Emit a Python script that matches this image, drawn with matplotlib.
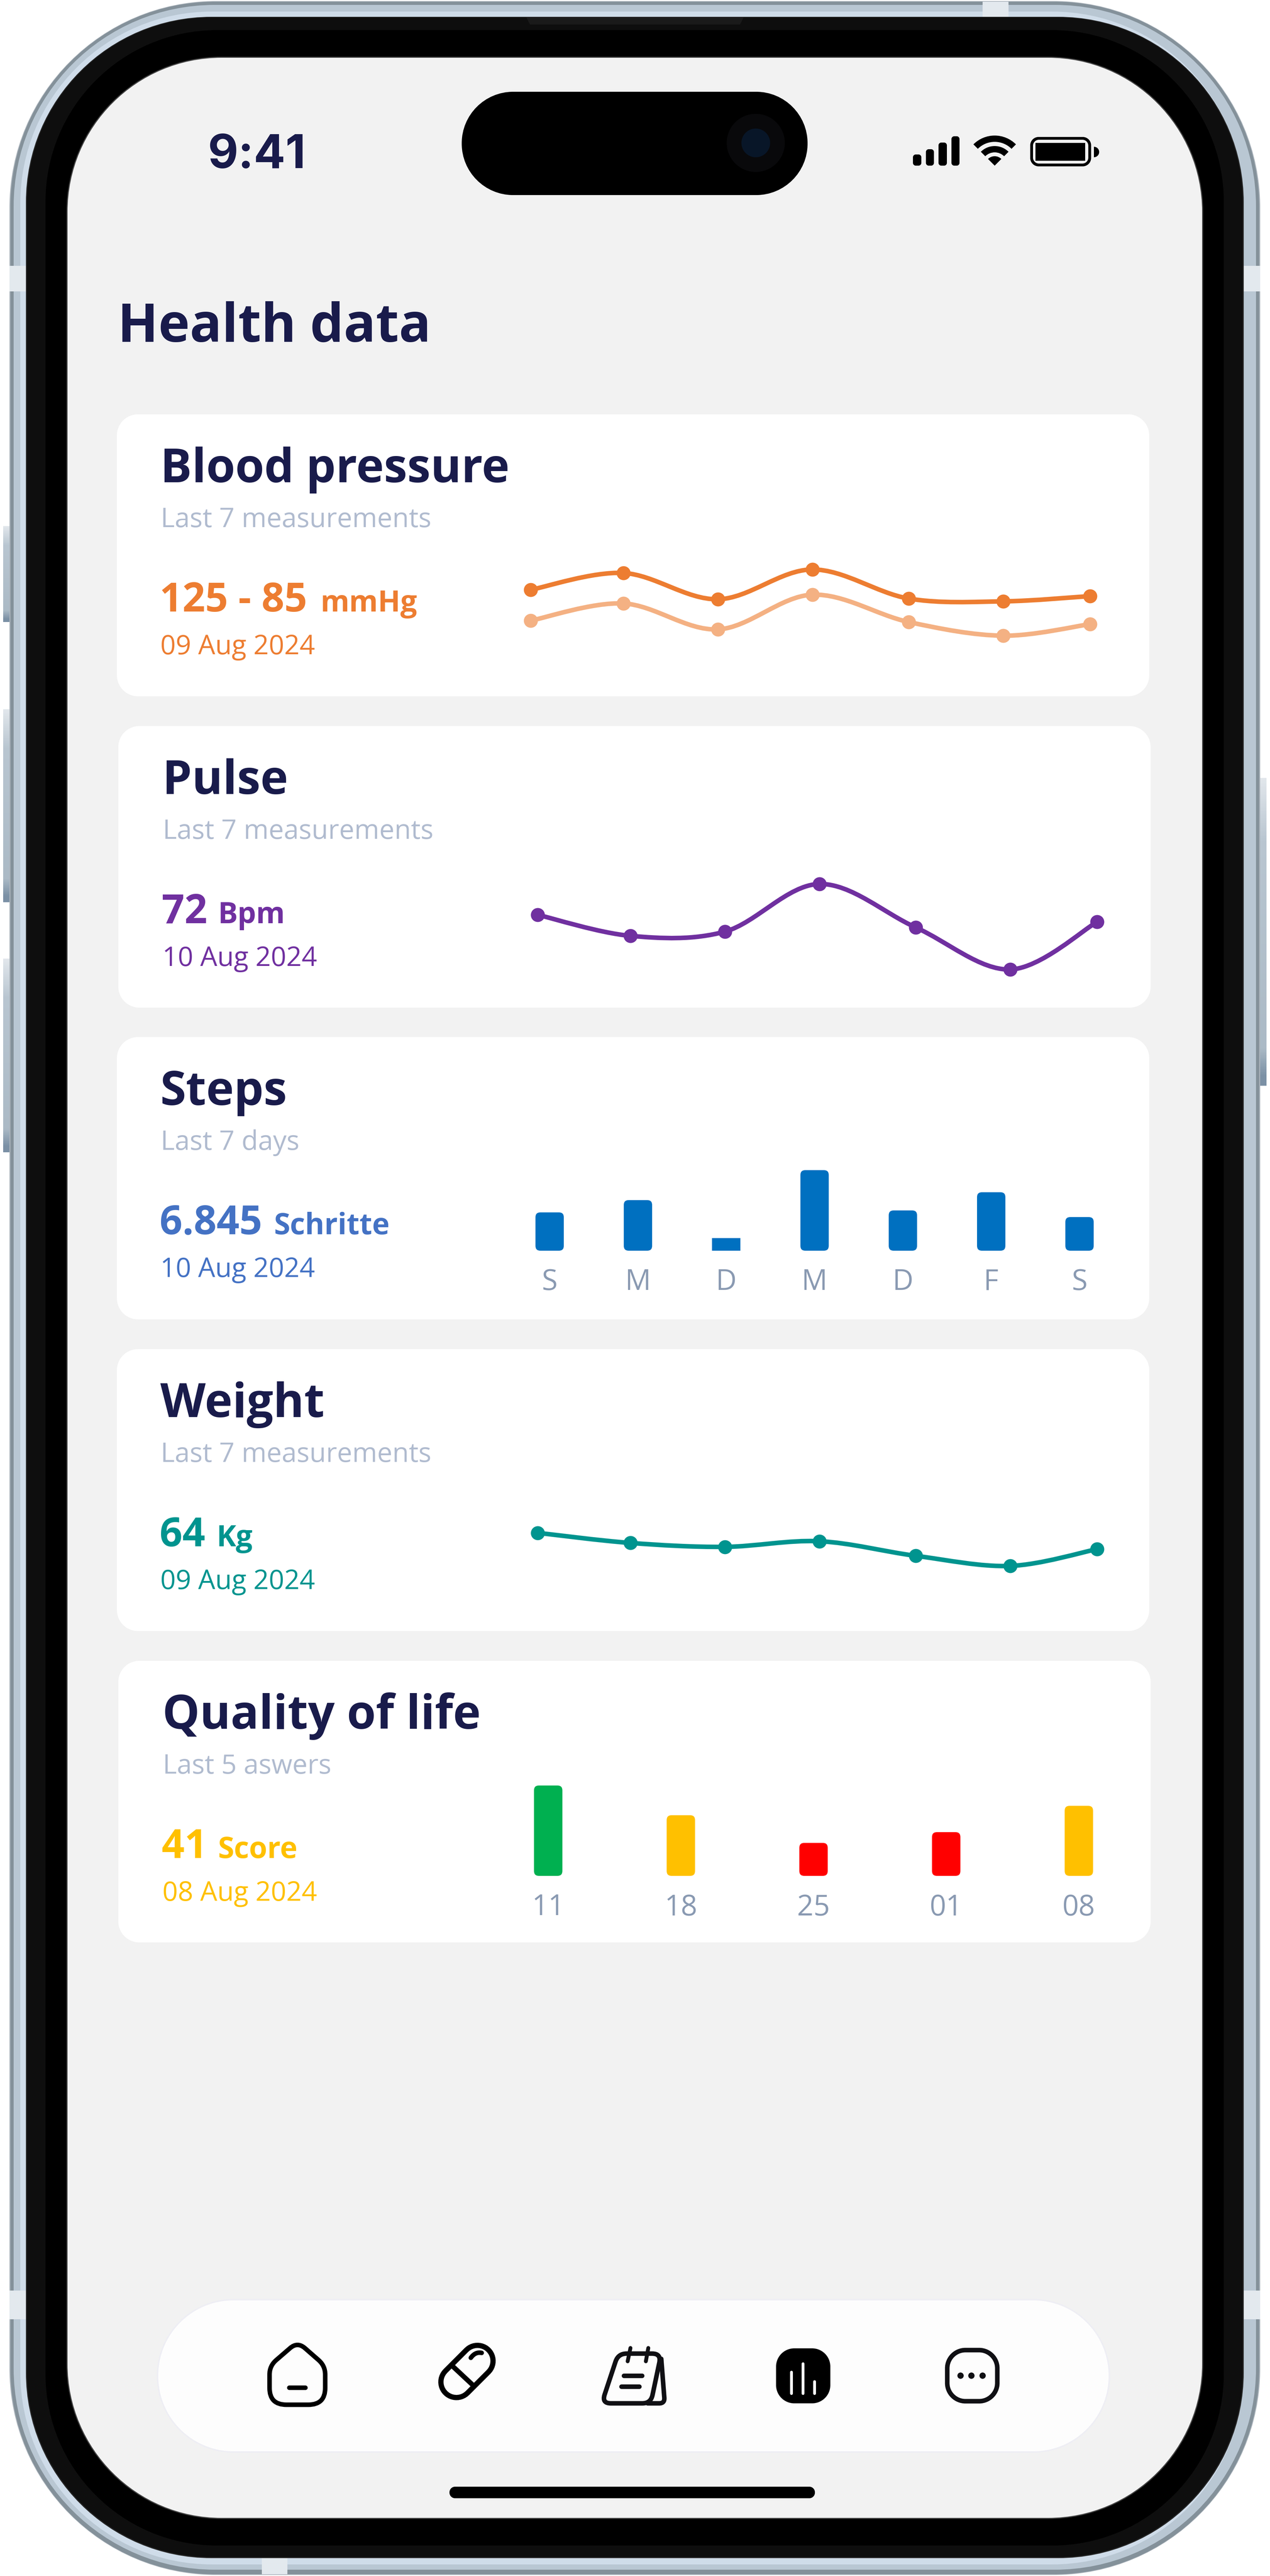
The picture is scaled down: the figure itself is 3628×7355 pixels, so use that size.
import numpy as np
import matplotlib
matplotlib.use('Agg')
import matplotlib.pyplot as plt
from matplotlib.path import Path
from matplotlib.patches import PathPatch, FancyBboxPatch, Wedge, Polygon, Ellipse
from matplotlib.colors import LinearSegmentedColormap

# chart values
measure_pos = [0, 0.98, 1.98, 2.98, 4.0, 5.0, 5.92]
systolic = [134, 158, 120.5, 163, 121.5, 117.5, 125]
diastolic = [90, 114.5, 77.5, 127, 88, 68.5, 85]
pulse = [74.5, 67, 68.5, 85.5, 70, 55, 72]
weight = [66.9, 65.1, 64.4, 65.4, 62.8, 61, 64]
step_days = ['S', 'M', 'D', 'M', 'D', 'F', 'S']
steps = [7800, 10300, 2570, 16400, 8200, 11900, 6845]
qol_days = ['11', '18', '25', '01', '08']
qol_score = [52.9, 35.5, 19.3, 25.6, 41]
qol_colors = ['#00B050', '#FFC000', '#FF0000', '#FF0000', '#FFC000']

NAVY = '#191B4B'
SUB = '#B0BBCF'
TICK = '#8A9AB2'
ORANGE = '#ED7D31'
ORANGE_LIGHT = '#F4B183'
PURPLE = '#7030A0'
BLUE_TXT = '#4472C4'
BLUE_BAR = '#0070C0'
TEAL = '#00948F'
YELLOW = '#FFC000'
FONT = 'Open Sans'

W, H = 3628, 7355
DPI = 100


def pt(px):
    return px * 72 / DPI


fig = plt.figure(figsize=(W / DPI, H / DPI), dpi=DPI, facecolor='white')
bg = fig.add_axes([0, 0, 1, 1])
bg.set_xlim(0, W)
bg.set_ylim(H, 0)
bg.axis('off')


def rrect(x0, y0, x1, y1, r):
    k = 0.5523 * r
    v = [(x0 + r, y0), (x1 - r, y0), (x1 - r + k, y0), (x1, y0 + r - k), (x1, y0 + r),
         (x1, y1 - r), (x1, y1 - r + k), (x1 - r + k, y1), (x1 - r, y1),
         (x0 + r, y1), (x0 + r - k, y1), (x0, y1 - r + k), (x0, y1 - r),
         (x0, y0 + r), (x0, y0 + r - k), (x0 + r - k, y0), (x0 + r, y0), (x0 + r, y0)]
    c = [Path.MOVETO, Path.LINETO, Path.CURVE4, Path.CURVE4, Path.CURVE4,
         Path.LINETO, Path.CURVE4, Path.CURVE4, Path.CURVE4,
         Path.LINETO, Path.CURVE4, Path.CURVE4, Path.CURVE4,
         Path.LINETO, Path.CURVE4, Path.CURVE4, Path.CURVE4, Path.CLOSEPOLY]
    return Path(v, c)


def box(x0, y0, x1, y1, r, color, ec='none', lw=0, z=1):
    bg.add_patch(PathPatch(rrect(x0, y0, x1, y1, r), fc=color, ec=ec, lw=pt(lw), zorder=z))


def round_poly(pts, rads, closed=True):
    pts = np.array(pts, float)
    n = len(pts)
    verts, codes = [], []
    idx = range(n) if closed else range(1, n - 1)
    if not closed:
        verts.append(pts[0])
        codes.append(Path.MOVETO)
    for i in idx:
        p = pts[i]
        a = pts[(i - 1) % n]
        b = pts[(i + 1) % n]
        p1 = p + (a - p) / np.linalg.norm(a - p) * rads[i]
        p2 = p + (b - p) / np.linalg.norm(b - p) * rads[i]
        verts.append(p1)
        codes.append(Path.MOVETO if (closed and i == 0) else Path.LINETO)
        verts += [p, p2]
        codes += [Path.CURVE3, Path.CURVE3]
    if closed:
        verts.append(verts[0])
        codes.append(Path.CLOSEPOLY)
    else:
        verts.append(pts[-1])
        codes.append(Path.LINETO)
    return Path(verts, codes)


def stroke(path, color='black', lw=13, z=5):
    bg.add_patch(PathPatch(path, fc='none', ec=color, lw=pt(lw), capstyle='round',
                           joinstyle='round', zorder=z))


def seg(x0, y0, x1, y1, color='black', lw=13, z=5):
    bg.plot([x0, x1], [y0, y1], color=color, lw=pt(lw), solid_capstyle='round', zorder=z)


def txt(x, y, s, px, color, weight='normal', family=FONT):
    return bg.text(x, y, s, fontsize=pt(px), color=color, fontweight=weight, family=family,
                   va='baseline', ha='left', zorder=6)


# side buttons
grad = LinearSegmentedColormap.from_list('btn', [(0, '#E2E7EC'), (0.2, '#B9C6D1'), (0.88, '#ABBAC6'),
                                                 (0.97, '#7B90A5'), (1, '#7B90A5')])
g = np.linspace(0, 1, 256).reshape(-1, 1)
for x0, x1, y0, y1 in [(9, 32, 1502, 1776), (9, 32, 2025, 2576), (9, 32, 2737, 3290), (3596, 3618, 2221, 3100)]:
    bg.imshow(g, cmap=grad, extent=[x0, x1, y1, y0], aspect='auto', zorder=0.5)
bg.set_xlim(0, W)
bg.set_ylim(H, 0)

# phone body
box(27, 3, 3600, 7352, 590, '#AAB3BB', z=1)
box(30, 5, 3597, 7350, 585, '#84919A', z=1.1)
box(39, 14, 3588, 7337, 575, '#B9C7D3', z=1.2)
box(58, 33, 3553, 7322, 548, '#CFDCE9', z=1.3)
for x0, y0, x1, y1 in [(27, 759, 74, 832), (3553, 759, 3600, 832), (27, 6540, 74, 6622), (3553, 6540, 3600, 6622),
                       (2807, 5, 2881, 48), (748, 7304, 821, 7350)]:
    bg.fill([x0, x1, x1, x0], [y0, y0, y1, y1], color='#E3E9EE', lw=0, zorder=1.4)
box(74, 48, 3553, 7304, 530, '#262626', z=1.5)
box(77, 50, 3550, 7301, 527, '#0E0E0E', z=1.6)
box(130, 86, 3496, 7268, 490, '#000000', z=1.7)
bg.add_patch(Polygon([(1504, 50), (2124, 50), (2114, 70), (1514, 70)], fc='#1A1A1A', lw=0, zorder=1.65))
box(190, 162, 3437, 7192, 443, '#454545', z=1.8)
box(193, 165, 3434, 7189, 440, '#F2F2F2', z=1.9)

# status bar
txt(594, 480, '9:41', 134, NAVY, 'bold', 'Inter')
box(1319, 262, 2307, 557, 147, 'black', z=3)
bg.add_patch(Ellipse((2159, 408), 166, 166, fc='#09090B', lw=0, zorder=3.1))
bg.add_patch(Ellipse((2159, 408), 82, 82, fc='#081628', lw=0, zorder=3.2))
for x0, x1, top in [(2608, 2632, 441), (2645, 2668, 426), (2681, 2705, 407), (2718, 2741, 389)]:
    box(x0, top, x1, 473, 8, 'black', z=3)
for r, w in [(86, 18), (56, 18), (27, 27)]:
    bg.add_patch(Wedge((2841.5, 473), r, 225, 315, width=w, fc='black', lw=0, zorder=3))
box(2943, 391, 3117, 475, 24, 'black', z=3)
box(2951, 399, 3109, 467, 17, '#F2F2F2', z=3.1)
box(2958, 408, 3100, 459, 0.1, 'black', z=3.2)
bg.add_patch(Wedge((3125, 434), 15, -90, 90, fc='black', lw=0, zorder=3))

txt(336, 976, 'Health data', 152, NAVY, 'bold')

# cards
cards = [
    (334, 1183, 3283, 1988, 'Blood pressure', 'Last 7 measurements', '125 - 85', 'mmHg', 915, '09 Aug 2024', ORANGE),
    (338, 2073, 3287, 2877, 'Pulse', 'Last 7 measurements', '72', 'Bpm', 622, '10 Aug 2024', PURPLE),
    (334, 2961, 3283, 3767, 'Steps', 'Last 7 days', '6.845', 'Schritte', 782, '10 Aug 2024', BLUE_TXT),
    (334, 3852, 3283, 4657, 'Weight', 'Last 7 measurements', '64', 'Kg', 618, '09 Aug 2024', TEAL),
    (338, 4742, 3287, 5546, 'Quality of life', 'Last 5 aswers', '41', 'Score', 622, '08 Aug 2024', YELLOW),
]
for x0, y0, x1, y1, title, sub, val, unit, ux, date, col in cards:
    box(x0, y0, x1, y1, 60, 'white', z=2)
    tx = x0 + 128 if x0 == 334 else x0 + 130
    txt(tx - 4, y0 + 194, title, 134, NAVY, 'bold')
    txt(tx - 3, y0 + 322, sub, 77, SUB, 'normal')
    txt(tx - 6, y0 + 563, val, 114, col, 'bold')
    txt(ux, y0 + 563, unit, 84, col, 'bold')
    txt(tx - 4, y0 + 685, date, 77, col, 'normal')


def chart_axes(left, right, top, bottom, xlim, ylim):
    ax = fig.add_axes([left / W, 1 - bottom / H, (right - left) / W, (bottom - top) / H])
    ax.set_xlim(*xlim)
    ax.set_ylim(*ylim)
    ax.patch.set_visible(False)
    for s in ax.spines.values():
        s.set_visible(False)
    ax.set_yticks([])
    return ax


def smooth_line(ax, x, y, color):
    p = np.column_stack([x, y]).astype(float)
    n = len(p)
    verts = [p[0]]
    codes = [Path.MOVETO]
    for i in range(n - 1):
        c1 = p[i] + (p[i + 1] - p[max(i - 1, 0)]) / 6
        c2 = p[i + 1] - (p[min(i + 2, n - 1)] - p[i]) / 6
        verts += [c1, c2, p[i + 1]]
        codes += [Path.CURVE4] * 3
    ax.add_patch(PathPatch(Path(verts, codes), fc='none', ec=color, lw=pt(13), clip_on=False,
                           capstyle='round'))
    ax.plot(x, y, 'o', color=color, ms=pt(40), mew=0, clip_on=False)
    ax.set_xticks([])


def rounded_bars(ax, values, colors, width, r_px, min_px, px_x, px_y, labels):
    x = np.arange(len(values))
    for i, v in enumerate(values):
        h_px = v * px_y
        if h_px < min_px:
            ax.bar(i, v, width=width, color=colors[i], lw=0)
            continue
        ax.add_patch(FancyBboxPatch((i - width / 2, 0), width, v,
                                    boxstyle='round,pad=0,rounding_size=%f' % (r_px / px_x),
                                    mutation_aspect=px_x / px_y, fc=colors[i], lw=0))
    ax.set_xticks(x)
    ax.set_xticklabels(labels, fontsize=pt(82), color=TICK, fontweight='normal', family=FONT)
    ax.tick_params(axis='x', length=0, pad=pt(50))


# blood pressure, 2 px per mmHg
ax = chart_axes(1516, 3114.4, 1600, 1840, (0, 5.92), (56, 176))
smooth_line(ax, measure_pos, diastolic, ORANGE_LIGHT)
smooth_line(ax, measure_pos, systolic, ORANGE)

# pulse, 8 px per bpm
ax = chart_axes(1536, 3134.4, 2500, 2800, (0, 5.92), (51, 88.5))
smooth_line(ax, measure_pos, pulse, PURPLE)

# steps
ax = chart_axes(1444, 3210, 3300, 3571, (-0.5, 6.5), (0, 271 * 71.3))
rounded_bars(ax, steps, [BLUE_BAR] * 7, 0.321, 14, 50, 252.3, 1 / 71.3, step_days)

# weight, 16 px per kg
ax = chart_axes(1536, 3134.4, 4340, 4500, (0, 5.92), (59.1875, 69.1875))
smooth_line(ax, measure_pos, weight, TEAL)

# quality of life
ax = chart_axes(1376.5, 3271.5, 5060, 5356, (-0.5, 4.5), (0, 296 / 4.878))
rounded_bars(ax, qol_score, qol_colors, 0.214, 14, 50, 379, 4.878, qol_days)

# bottom navigation
box(450, 6566, 3169, 7001, 217, '#FDFDFD', ec='#EEEEF4', lw=4, z=4)
stroke(round_poly([(850, 6686), (929, 6755), (929, 6866), (770, 6866), (770, 6755)], [28, 25, 48, 48, 25]))
seg(826, 6817, 872, 6817, lw=13)

# capsule
seg(1304, 6801, 1364, 6741, lw=104, z=5)
seg(1304, 6801, 1364, 6741, color='#FDFDFD', lw=74, z=5.1)
seg(1292, 6755, 1353, 6812, lw=14, z=5.2)
stroke(Path([(1345, 6732), (1358, 6714), (1376, 6718)], [Path.MOVETO, Path.CURVE3, Path.CURVE3]), lw=13, z=5.2)

# notes
NOTE = '#101014'
stroke(round_poly([(1889, 6735), (1899, 6862), (1850, 6862)], [0, 16, 0], closed=False), NOTE, 13)
stroke(round_poly([(1766, 6720), (1889, 6720), (1859, 6862), (1719, 6862)], [24, 26, 24, 26]), NOTE, 13)
seg(1801, 6704, 1793, 6742, NOTE, 11)
seg(1852, 6704, 1845, 6742, NOTE, 11)
seg(1782, 6783, 1834, 6783, NOTE, 13)
seg(1775, 6814, 1826, 6814, NOTE, 13)

# chart icon
box(2217, 6705, 2372, 6862, 52, 'black', z=5)
for bx, top in [(2261, 6773), (2294, 6749), (2327, 6800)]:
    seg(bx, top, bx, 6834, 'white', 8, 6)

# dots icon
box(2706, 6710, 2849, 6856, 52, 'none', ec='#101014', lw=13, z=5)
for dx in (2744, 2775, 2807):
    bg.add_patch(Ellipse((dx, 6783), 18, 18, fc='#101014', lw=0, zorder=5))

box(1284, 7100, 2328, 7133, 16, 'black', z=5)

fig.savefig('out.png', dpi=DPI, facecolor='white')
